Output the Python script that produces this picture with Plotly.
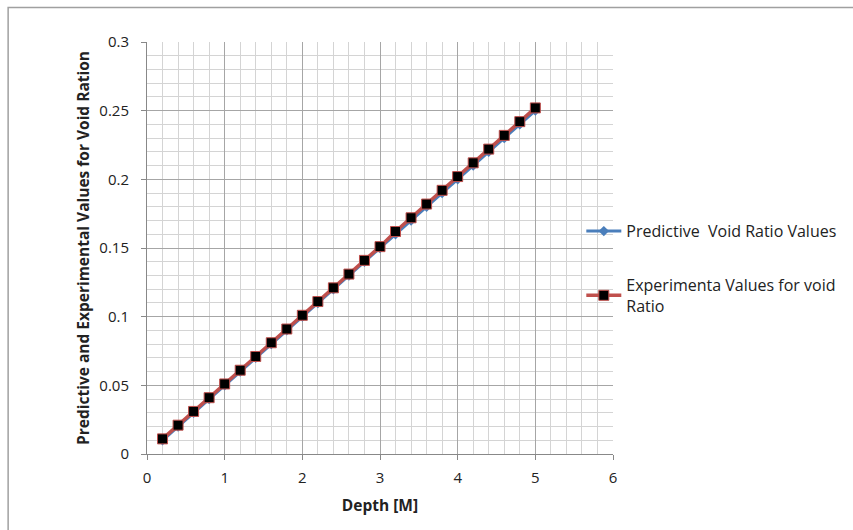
import plotly.graph_objects as go

# Depth readings (m)
depth = [0.2, 0.4, 0.6, 0.8, 1.0, 1.2, 1.4, 1.6, 1.8, 2.0, 2.2, 2.4, 2.6,
         2.8, 3.0, 3.2, 3.4, 3.6, 3.8, 4.0, 4.2, 4.4, 4.6, 4.8, 5.0]

# Predicted void ratio at each depth
predictive = [0.010, 0.020, 0.030, 0.040, 0.050, 0.060, 0.070, 0.080, 0.090,
              0.100, 0.110, 0.120, 0.130, 0.140, 0.150, 0.160, 0.170, 0.180,
              0.190, 0.200, 0.210, 0.220, 0.230, 0.240, 0.250]

# Measured void ratio at each depth
experimental = [0.011, 0.021, 0.031, 0.041, 0.051, 0.061, 0.071, 0.081, 0.091,
                0.101, 0.111, 0.121, 0.131, 0.141, 0.151, 0.162, 0.172, 0.182,
                0.192, 0.202, 0.212, 0.222, 0.232, 0.242, 0.252]

x_ticks = [0, 1, 2, 3, 4, 5, 6]
y_ticks = [0, 0.05, 0.1, 0.15, 0.2, 0.25, 0.3]
y_tick_labels = ["0", "0.05", "0.1", "0.15", "0.2", "0.25", "0.3"]

FONT = "Open Sans, Noto Sans, sans-serif"
TEXT = "#222222"
MAJOR = "#a6a6a6"
MINOR = "#d4d4d4"

fig = go.Figure()

fig.add_trace(go.Scatter(
    x=depth, y=predictive, mode="lines+markers",
    name="Predictive  Void Ratio Values",
    legendgroup="a",
    line=dict(color="#4a7ebb", width=3),
    marker=dict(symbol="diamond", size=8, color="#4a7ebb"),
))

fig.add_trace(go.Scatter(
    x=depth, y=experimental, mode="lines+markers",
    name="Experimenta Values for void<br>Ratio",
    legendgroup="b",
    line=dict(color="#c0504d", width=3.5),
    marker=dict(symbol="square", size=10, color="black",
                line=dict(color="#c0504d", width=1)),
))

axis_common = dict(
    showline=True, linecolor="#888888", linewidth=1,
    ticks="outside", ticklen=5, tickcolor="#888888",
    showgrid=True, gridcolor=MAJOR, gridwidth=1,
    zeroline=False, mirror=False,
    tickfont=dict(family=FONT, size=15, color=TEXT),
)

fig.update_xaxes(
    range=[0, 6], tickvals=x_ticks, ticktext=[str(v) for v in x_ticks],
    minor=dict(dtick=0.2, showgrid=True, gridcolor=MINOR, ticks=""),
    ticklabelstandoff=5,
    title=dict(text="<b>Depth [M]</b>", font=dict(family=FONT, size=15.5, color=TEXT),
               standoff=14),
    **axis_common,
)
fig.update_yaxes(
    range=[0, 0.3], tickvals=y_ticks, ticktext=y_tick_labels,
    minor=dict(dtick=0.01, showgrid=True, gridcolor=MINOR, ticks=""),
    ticklabelstandoff=9,
    title=dict(text="<b>Predictive and Experimental Values for Void Ration</b>",
               font=dict(family=FONT, size=15.5, color=TEXT), standoff=5),
    **axis_common,
)

fig.update_layout(
    width=853, height=530,
    margin=dict(l=147, r=238, t=42, b=76),
    paper_bgcolor="white", plot_bgcolor="white",
    showlegend=True,
    legend=dict(
        x=0.932, y=0.582, xanchor="left", yanchor="top",
        traceorder="grouped", tracegroupgap=30, itemwidth=35,
        font=dict(family=FONT, size=16, color=TEXT),
        bgcolor="rgba(0,0,0,0)",
    ),
    shapes=[dict(
        type="rect", xref="paper", yref="paper",
        x0=-0.298, x1=1.6, y0=-0.3, y1=1.0837,
        line=dict(color="#a0a0a0", width=1.5), layer="below",
    )],
)

fig.write_html("out.html")
